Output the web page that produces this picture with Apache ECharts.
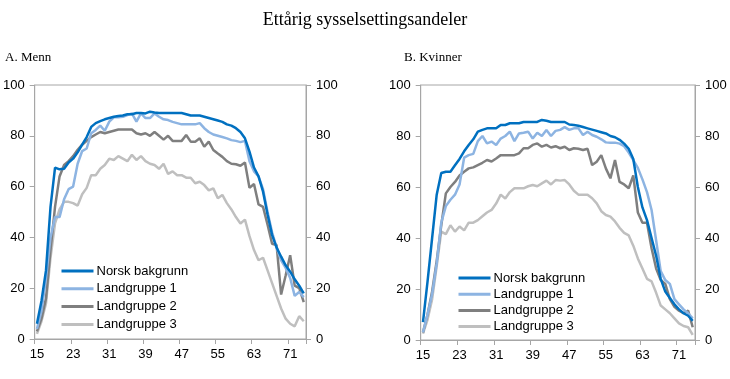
<!DOCTYPE html>
<html>
<head>
<meta charset="utf-8">
<script src="https://cdn.jsdelivr.net/npm/echarts@6/dist/echarts.min.js"></script>
<style>
html,body{margin:0;padding:0;background:#fff;}
#chart{width:730px;height:379px;}
</style>
</head>
<body>
<div id="chart"></div>
<script>
// Ages (categories)
var ages = [15,16,17,18,19,20,21,22,23,24,25,26,27,28,29,30,31,32,33,34,35,36,37,38,39,40,41,42,43,44,45,46,47,48,49,50,51,52,53,54,55,56,57,58,59,60,61,62,63,64,65,66,67,68,69,70,71,72,73,74];
var yTicks = [0,20,40,60,80,100];
var seriesNames = ['Norsk bakgrunn','Landgruppe 1','Landgruppe 2','Landgruppe 3'];

// A. Menn
var menNorsk = [6,15,27,52,67.5,66.8,67,69.5,71,73.5,76.5,79.5,83.5,85,85.8,86.5,87,87.5,87.8,88,88.5,88.5,89,89,88.8,89.5,89.2,89,89,89,89,89,89,88.5,88,88,88,87.5,87,86.5,86,85.5,84.5,84,83,81.5,79,73.8,67.5,64,58,49,41,36,32.4,29,26.5,23.5,21,18];
var menLG1 = [4,11,24,40,48,48,55,59,60,69,74,75,81,82.3,84,82,85.6,87.3,87.3,87.5,88.2,88.8,85.6,88.8,87,87,88.8,87.5,86.5,86.2,85.5,85,84.5,84.5,84.5,84.5,85,83,81.5,80.5,80,79.5,79,78.3,78,77.5,78,70,66,64,59,50,42,36,31,28,24,17,18.5,16.5];
var menLG2 = [3,8,16,35,52,64,68.5,70,72,74.5,76.5,78,79.5,80.5,81.5,81,81.5,82,82.5,82.5,82.5,82.5,81,80.5,81,80,81.5,80,78.5,80,78,78,78,80.3,77.7,77.7,79,75.7,77.7,74.4,73,71.7,70,69,68.8,68.2,69.5,59.5,61,53,52,45,37.5,37,17.5,25,33,21,20,14.5];
var menLG3 = [2,7,14,32,45.5,51,54,54,53.5,52.5,57,59.5,64.5,64.5,67,68.5,71,70.5,72,71,70,72.5,70.5,72,70,69,68.5,67,69,65,66,64.5,64.5,63.5,63.5,61.3,61.9,60.6,58.5,59.3,55.4,56.7,53.5,51,48,45.5,47,40.5,35,31,32,27,22,17,12,8,6,5,9,7];

// B. Kvinner
var womenNorsk = [7,23,40,57,65.5,66,66,68.5,71,74,76.5,78.7,81.7,82.4,83,83,83,84.3,84.3,85,85,85,85.5,85.5,85.5,85.5,86.3,86,85.5,85.5,85.5,85.5,84.5,84.3,84,83.5,83,82.5,82,81.5,81,80,79.5,78.5,77,75,71,60,52,47,40,33,24,19,16.5,14,12,10.5,9.5,7.5];
var womenLG1 = [3,10,18,30,46,52.5,55,57,61,71.5,72.5,73,78,80,77.1,77.8,76.5,79,80,81.7,78,81,81.3,81.7,79,81.3,80,82.4,80,82,82.4,83.5,82.4,83,83,80.4,81.7,80.4,79.7,78.7,77.5,77.4,77.4,77,76,73.5,70.5,67.5,63,58,51,39,27,23.5,22,16,14,12,10.5,8.5];
var womenLG2 = [3,10,19,31,45,57.5,60,62,64.5,66,67.3,67.7,68.6,69.5,70.6,70,71.2,72.5,72.5,72.5,72.5,73.2,75.2,75.2,76.5,77.1,75.8,76.5,75.5,76,75.2,75.8,74.5,75.2,75,74.5,75,68.6,69.9,72.5,67.3,63.4,70.6,62,61,59.5,64.5,50,46,46,36,28,23.5,22,16,13,11.5,10.5,11.5,5];
var womenLG3 = [2.5,8,16,29,42.5,41.5,45,42.5,44.5,43,46,46,47,48.5,50,51,53.5,57,55.5,58,59.5,59.5,59.5,60.3,60.8,60.3,61.4,62.5,61,62.7,62.5,62.7,61,58.5,57,57,57,55.6,53.6,50.5,49,48.4,46.5,44,42,41,37,32,28,24,23,18.5,13.5,12,10.5,8.5,6.5,5.5,5,2];

var colors = ['#0070C0','#8DB4E2','#7F7F7F','#BFBFBF'];
var axisGray = '#A6A6A6';
var sans = 'Liberation Sans, Arial, sans-serif';
var serif = 'Liberation Serif, Times New Roman, serif';

var chart = echarts.init(document.getElementById('chart'), null, {renderer:'canvas'});

function xAx(gi){
  return {
    type:'category', gridIndex:gi, data:ages, boundaryGap:true,
    axisLine:{show:true, lineStyle:{color:axisGray, width:1}},
    axisTick:{show:true, interval:7, length:5, lineStyle:{color:axisGray}},
    axisLabel:{interval:7, color:'#000', fontFamily:sans, fontSize:13, margin:9},
    splitLine:{show:false}
  };
}
function yAx(gi, pos){
  return {
    type:'value', gridIndex:gi, position:pos, min:yTicks[0], max:yTicks[yTicks.length-1], interval:20,
    axisLine:{show:true, lineStyle:{color:axisGray, width:1}},
    axisTick:{show:true, length:5, lineStyle:{color:axisGray}},
    axisLabel:{color:'#000', fontFamily:sans, fontSize:13, margin:10},
    splitLine:{show:false}
  };
}

var panelData = [[menNorsk,menLG1,menLG2,menLG3],[womenNorsk,womenLG1,womenLG2,womenLG3]];
var series = [];
for (var g=0; g<2; g++){
  for (var s=0; s<4; s++){
    series.push({
      name:seriesNames[s], type:'line', xAxisIndex:g, yAxisIndex:g*2,
      data:panelData[g][s], symbol:'none', showSymbol:false, smooth:false,
      lineStyle:{color:colors[s], width:2.5},
      itemStyle:{color:colors[s]},
      z: 10 - s,
      emphasis:{disabled:true}
    });
  }
}

function legendFor(left, top, gap){
  return {
    data:seriesNames, orient:'vertical', left:left, top:top, padding:0,
    icon:'rect', itemWidth:32, itemHeight:3, itemGap:gap,
    textStyle:{color:'#000', fontFamily:sans, fontSize:13, lineHeight:14, padding:[0,0,0,-2]},
    selectedMode:false
  };
}

chart.setOption({
  animation:false,
  backgroundColor:'#fff',
  title:[
    {text:'Ettårig sysselsettingsandeler', left:'center', top:11, padding:0,
      textStyle:{fontFamily:serif, fontWeight:'normal', fontSize:18, color:'#000'}},
    {text:'A. Menn', left:5, top:51, padding:0,
      textStyle:{fontFamily:serif, fontWeight:'normal', fontSize:13, color:'#000'}},
    {text:'B. Kvinner', left:404, top:51, padding:0,
      textStyle:{fontFamily:serif, fontWeight:'normal', fontSize:13, color:'#000'}}
  ],
  legend:[ legendFor(61.5, 264, 3.8), legendFor(458.5, 271, 2.2) ],
  grid:[
    {left:32.5, top:85, width:273.5, height:254, show:true, borderColor:axisGray, borderWidth:1, backgroundColor:'transparent'},
    {left:420.7, top:85, width:274.3, height:255, show:true, borderColor:axisGray, borderWidth:1, backgroundColor:'transparent'}
  ],
  xAxis:[ xAx(0), xAx(1) ],
  yAxis:[ yAx(0,'left'), yAx(0,'right'), yAx(1,'left'), yAx(1,'right') ],
  series:series
});
</script>
</body>
</html>
